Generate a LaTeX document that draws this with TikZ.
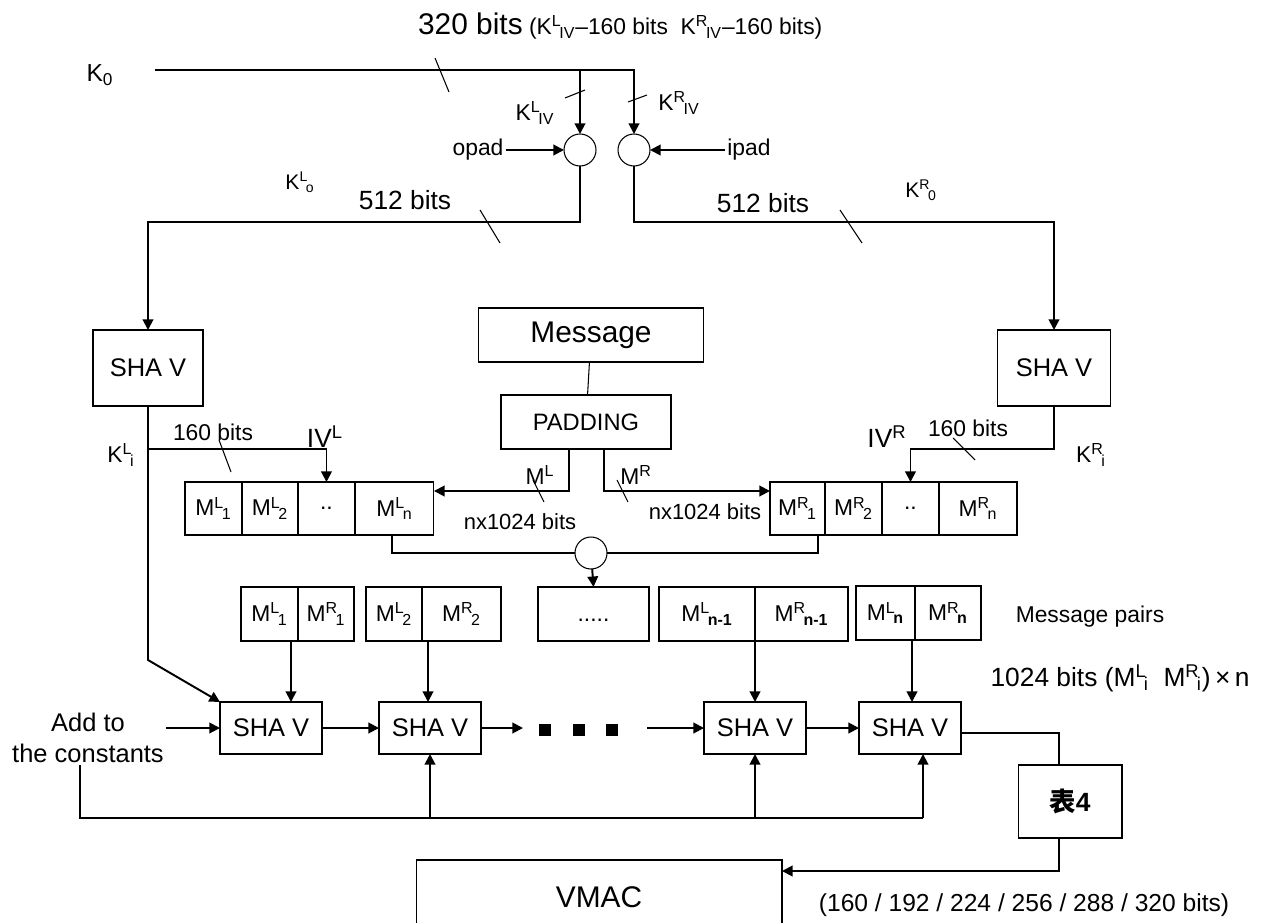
\documentclass[tikz,border=0pt]{standalone}
\usepackage{amsmath}
\usepackage{fontspec}
\setmainfont{Liberation Sans}
\newfontfamily\cjk{Noto Sans CJK SC}
\usetikzlibrary{arrows.meta, positioning}
\newcommand{\fsz}[1]{\fontsize{#1}{#1}\selectfont}
\newcommand{\supsub}[3]{#1$^{\text{#2}}\mkern-2mu{}_{\text{#3}}$}

\begin{document}
\begin{tikzpicture}[x=0.02cm, y=-0.02cm,
        box/.style={draw, rectangle, inner sep=0pt, outer sep=0pt, line width=0.6pt},
        cell/.style={box, minimum height=1.06cm, font=\fsz{13}},
        pair/.style={box, minimum height=1.08cm, font=\fsz{13}},
        sha/.style={box, minimum width=2.04cm, minimum height=1.04cm, font=\fsz{14.5}},
        xorc/.style={draw, circle, minimum size=0.64cm, inner sep=0pt, outer sep=0pt, line width=0.6pt},
        lbl/.style={inner sep=1pt, font=\fsz{13}},
        sq/.style={fill, minimum size=0.24cm, inner sep=0pt},
        wire/.style={line width=0.6pt},
        arr/.style={-{Triangle[length=6pt, width=6pt]}, line width=1.1pt},
        node distance=0pt,
    ]
        \useasboundingbox (0,0) rectangle (1273,922);
        \clip (0,0) rectangle (1273,922);

        \node[lbl, anchor=west] (top) at (416,26) {{\fsz{17}320 bits} {\fsz{13}(\supsub{K}{L}{IV}–160 bits\ \ \supsub{K}{R}{IV}–160 bits)}};
        \node[lbl, font=\fsz{14}] (k0) at (100,75) {K$_{\text{0}}$};
        \node[xorc] (cL) at (580,150) {};
        \node[xorc] (cR) at (634,150) {};
        \node[lbl] (opad) at (478,150) {opad};
        \node[lbl] (ipad) at (749,150) {ipad};
        \node[lbl] (kLiv) at (535,113) {\supsub{K}{L}{IV}};
        \node[lbl] (kRiv) at (679,103) {\supsub{K}{R}{IV}};
        \node[lbl, font=\fsz{12}] (kLo) at (300,182) {\supsub{K}{L}{o}};
        \node[lbl, font=\fsz{12}] (kR0) at (921,190) {\supsub{K}{R}{0}};
        \node[lbl, font=\fsz{15}] (b512L) at (405,200) {512 bits};
        \node[lbl, font=\fsz{15}] (b512R) at (763,203) {512 bits};

        \node[box, font=\fsz{14.5}, minimum width=2.2cm, minimum height=1.52cm] (shaL) at (148,368) {SHA V};
        \node[box, font=\fsz{14.5}, minimum width=2.26cm, minimum height=1.52cm] (shaR) at (1054,368) {SHA V};
        \node[box, font=\fsz{17}, minimum width=4.5cm, minimum height=1.08cm] (msg) at (591,335) {Message};
        \node[box, font=\fsz{13.5}, minimum width=3.4cm, minimum height=1.08cm] (pad) at (586,422) {PADDING};

        \node[lbl] (kLi) at (121,455) {\supsub{K}{L}{i}};
        \node[lbl] (b160L) at (213,432) {160 bits};
        \node[lbl, font=\fsz{15}] (ivL) at (325,437) {IV$^{\text{L}}$};
        \node[lbl, font=\fsz{15}] (ivR) at (887,437) {IV$^{\text{R}}$};
        \node[lbl] (b160R) at (968,428) {160 bits};
        \node[lbl] (kRi) at (1091,455) {\supsub{K}{R}{i}};
        \node[lbl] (mLlab) at (540,475) {M$^{\text{L}}$};
        \node[lbl] (mRlab) at (636,475) {M$^{\text{R}}$};
        \node[lbl, font=\fsz{12.5}] (nxL) at (520,522) {nx1024 bits};
        \node[lbl, font=\fsz{12.5}] (nxR) at (705,512) {nx1024 bits};

        \node[cell, minimum width=1.14cm] (mL1) at (213.5,508.5) {\supsub{M}{L}{1}};
        \node[cell, minimum width=1.12cm, right=of mL1] (mL2) {\supsub{M}{L}{2}};
        \node[cell, minimum width=1.14cm, right=of mL2] (mLd) {..};
        \node[cell, minimum width=1.58cm, right=of mLd] (mLn) {\supsub{M}{L}{n}};
        \node[cell, minimum width=1.1cm] (mR1) at (797.5,508.5) {\supsub{M}{R}{1}};
        \node[cell, minimum width=1.14cm, right=of mR1] (mR2) {\supsub{M}{R}{2}};
        \node[cell, minimum width=1.14cm, right=of mR2] (mRd) {..};
        \node[cell, minimum width=1.56cm, right=of mRd] (mRn) {\supsub{M}{R}{n}};
        \node[xorc] (cM) at (591,553) {};

        \node[pair, minimum width=1.14cm] (p1L) at (269.5,614) {\supsub{M}{L}{1}};
        \node[pair, minimum width=1.12cm, right=of p1L] (p1R) {\supsub{M}{R}{1}};
        \node[pair, minimum width=1.12cm] (p2L) at (394,614) {\supsub{M}{L}{2}};
        \node[pair, minimum width=1.58cm, right=of p2L] (p2R) {\supsub{M}{R}{2}};
        \node[pair, minimum width=2.22cm] (pd) at (593.5,614) {\raisebox{-9pt}{.....}};
        \node[pair, minimum width=1.92cm] (pn1L) at (707,614) {\supsub{M}{L}{\textbf{n-1}}};
        \node[pair, minimum width=1.86cm, right=of pn1L] (pn1R) {\supsub{M}{R}{\textbf{n-1}}};
        \node[pair, minimum width=1.18cm] (pnL) at (885.5,613) {\supsub{M}{L}{\textbf{n}}};
        \node[pair, minimum width=1.32cm, right=of pnL] (pnR) {\supsub{M}{R}{\textbf{n}}};
        \node[lbl] (pairs) at (1090,617) {Message pairs};
        \node[lbl, font=\fsz{15}] (bitsn) at (1120,678) {1024 bits (\supsub{M}{L}{i}\ \ \supsub{M}{R}{i})\,×\,n};

        \node[lbl, font=\fontsize{14.5}{18}\selectfont, align=center] (addc) at (88,738) {Add to\\the constants};
        \node[sha] (s1) at (271,728) {SHA V};
        \node[sha] (s2) at (430,728) {SHA V};
        \node[sha] (s3) at (755,728) {SHA V};
        \node[sha] (s4) at (910,728) {SHA V};
        \foreach \x in {545,579,612}
            \node[sq] (dot\x) at (\x,730) {};
        \coordinate (dL) at (523,728);
        \coordinate (dR) at (647,728);
        \coordinate (bus) at (80,818);
        \coordinate (busE) at (923,818);

        \node[box, font=\fsz{15}, minimum width=2.08cm, minimum height=1.46cm] (t4) at (1070,801.5) {{\cjk\bfseries 表}\textbf{4}};
        \node[box, font=\fsz{17}, minimum width=7.32cm, minimum height=1.5cm] (vmac) at (599,897.5) {VMAC};
        \node[lbl, font=\fsz{14}] (sizes) at (1024,905) {(160 / 192 / 224 / 256 / 288 / 320 bits)};

        \coordinate (kst) at (155,70);
        \draw[arr] (kst) -| (cR.north);
        \draw[arr] (cL.north |- kst) -- (cL.north);
        \draw[arr] (opad) -- (cL);
        \draw[arr] (ipad) -- (cR);
        \draw[arr] (cL.south) -- (cL.south |- 0,222) -| (shaL.north);
        \draw[arr] (cR.south) -- (cR.south |- 0,222) -| (shaR.north);
        \draw[wire] (msg) -- (pad);
        \draw[arr] (shaL.south) -- (shaL.south |- 0,449) -| (mLd.north);
        \draw[arr] (shaL.south |- 0,449) -- (shaL.south |- 0,660) -- (s1.north west);
        \draw[arr] (shaR.south) -- (shaR.south |- 0,449) -| (mRd.north);
        \draw[arr] (pad.south -| 569,0) |- (mLn.east |- 0,491);
        \draw[arr] (pad.south -| 604,0) |- (mR1.west |- 0,491);
        \draw[wire] (mLn.south -| 392,0) |- (cM.west);
        \draw[wire] (mR1.south -| 818,0) |- (cM.east);
        \draw[arr] (cM) -- (pd.north);
        \draw[arr] (p1L.south -| 291,0) -- (s1.north -| 291,0);
        \draw[arr] (p2L.south -| 428,0) -- (s2.north -| 428,0);
        \draw[arr] (pn1L.south -| 755,0) -- (s3.north -| 755,0);
        \draw[arr] (pnL.south -| 912,0) -- (s4.north -| 912,0);
        \draw[arr] (addc.east |- s1) -- (s1);
        \draw[arr] (s1) -- (s2);
        \draw[arr] (s2) -- (dL);
        \draw[arr] (dR) -- (s3);
        \draw[arr] (s3) -- (s4);
        \draw[wire] (addc.south -| bus) -- (bus) -- (busE);
        \draw[arr] (bus -| s2) -- (s2.south);
        \draw[arr] (bus -| s3) -- (s3.south);
        \draw[arr] (busE) -- (busE |- s4.south);
        \draw[wire] (s4.east |- 0,733) -| (t4.north -| 1059,0);
        \draw[arr] (t4.south -| 1059,0) |- (vmac.east |- 0,871);

        \draw[wire] (435,58) -- (449,92);
        \draw[wire] (565,98) -- (585,90);
        \draw[wire] (628,102) -- (647,95);
        \draw[wire] (480,210) -- (500,243);
        \draw[wire] (840,210) -- (862,243);
        \draw[wire] (219,440) -- (231,472);
        \draw[wire] (953,438) -- (975,460);
        \draw[wire] (533,480) -- (544,502);
        \draw[wire] (617,480) -- (628,502);
    \end{tikzpicture}
\end{document}
